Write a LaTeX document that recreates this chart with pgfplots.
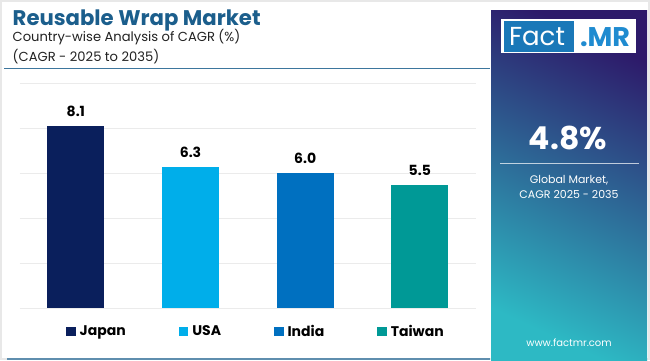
\documentclass[border=0pt]{standalone}
\usepackage{fontspec}
\setmainfont{Poppins}
\usepackage{pgfplots}
\pgfplotsset{compat=1.18}
\definecolor{japan}{HTML}{0A1F5C}
\definecolor{usa}{HTML}{00AEEA}
\definecolor{india}{HTML}{0070C0}
\definecolor{taiwan}{HTML}{009996}
\definecolor{titleblue}{HTML}{1B5E8C}
\definecolor{ptop}{HTML}{2D1A6A}
\definecolor{pbot}{HTML}{2DB9C4}
\definecolor{logoblue}{HTML}{1A78B8}
\definecolor{mrblue}{HTML}{1F8BD0}
\definecolor{subtext}{HTML}{222222}
\definecolor{gridc}{HTML}{EBEBEB}
\begin{document}
\begin{tikzpicture}[x=1pt,y=1pt]
\useasboundingbox (0,0) rectangle (650,360);
\fill[white] (0,0) rectangle (650,360);
\draw[gray!18, line width=2pt] (1,1) rectangle (649,359);
% right panel
\shade[top color=ptop, bottom color=pbot, shading angle=-25] (491,0) rectangle (647,350);
\fill[white] (501,307) rectangle (636,341);
\fill[logoblue] (504,308.5) rectangle (574,339.5);
\node[text=white, font=\fontsize{26}{26}\selectfont, inner sep=0] at (537,323) {Fact};
\node[text=mrblue, font=\fontsize{27}{27}\selectfont\bfseries, inner sep=0] at (605,323) {.MR};
\node[text=white, font=\fontsize{31.5}{31.5}\selectfont\bfseries, inner sep=0] at (568,222.5) {4.8\%};
\draw[white, opacity=0.7, line width=1pt] (500,196.7) -- (639,196.7);
\node[text=white, font=\fontsize{11}{13}\selectfont, inner sep=0] at (569,180) {Global Market,};
\node[text=white, font=\fontsize{11}{13}\selectfont, inner sep=0] at (569,166) {CAGR 2025 - 2035};
\node[text=white, font=\fontsize{10}{12}\selectfont, inner sep=0] at (569,17) {www.factmr.com};
% titles
\node[anchor=base west, inner sep=0, font=\fontsize{21.2}{26}\selectfont\bfseries, text=titleblue] at (12.5,335) {Reusable Wrap Market};
\node[anchor=base west, inner sep=0, font=\fontsize{13.1}{15}\selectfont, text=subtext] at (12.5,318.3) {Country-wise Analysis of CAGR (\%)};
\node[anchor=base west, inner sep=0, font=\fontsize{13.1}{15}\selectfont, text=subtext] at (12.5,299) {(CAGR - 2025 to 2035)};
\draw[titleblue!85, line width=1.5pt] (4,291.7) -- (490,291.7);
\draw[titleblue!70, line width=2pt] (7,1) -- (490,1);
\begin{axis}[
  at={(20pt,51.7pt)}, anchor=south west, scale only axis,
  width=456pt, height=225pt,
  xmin=-0.487, xmax=3.49, ymin=0, ymax=10,
  ytick={0,2,4,6,8,10}, yticklabels={}, xtick=\empty,
  ymajorgrids, grid style={draw=gridc, line width=0.8pt},
  axis line style={draw=none}, major tick length=0pt,
  ybar, bar width=57pt, bar shift=0pt,
  nodes near coords,
  nodes near coords style={font=\fontsize{14}{14}\selectfont\bfseries, anchor=south, inner sep=0pt, yshift=9pt, text=black},
  legend columns=4,
  legend style={draw=none, fill=none, at={(axis description cs:0.5,0)}, anchor=center, xshift=8pt, yshift=-23.4pt,
    font=\fontsize{14}{14}\selectfont\bfseries,
    /tikz/every odd column/.append style={column sep=2pt},
    /tikz/every even column/.append style={column sep=51pt}},
  legend image code/.code={\fill[#1] (0pt,-4.5pt) rectangle (9.5pt,5pt);},
  /pgf/number format/.cd, fixed, fixed zerofill, precision=1, assume math mode=true
]
\addplot[fill=japan, draw=none] coordinates {(0,8.1)};
\addlegendentry{Japan}
\addplot[fill=usa, draw=none] coordinates {(1,6.3)};
\addlegendentry{USA}
\addplot[fill=india, draw=none] coordinates {(2,6.0)};
\addlegendentry{India}
\addplot[fill=taiwan, draw=none] coordinates {(3,5.5)};
\addlegendentry{Taiwan}
\end{axis}
\end{tikzpicture}
\end{document}
